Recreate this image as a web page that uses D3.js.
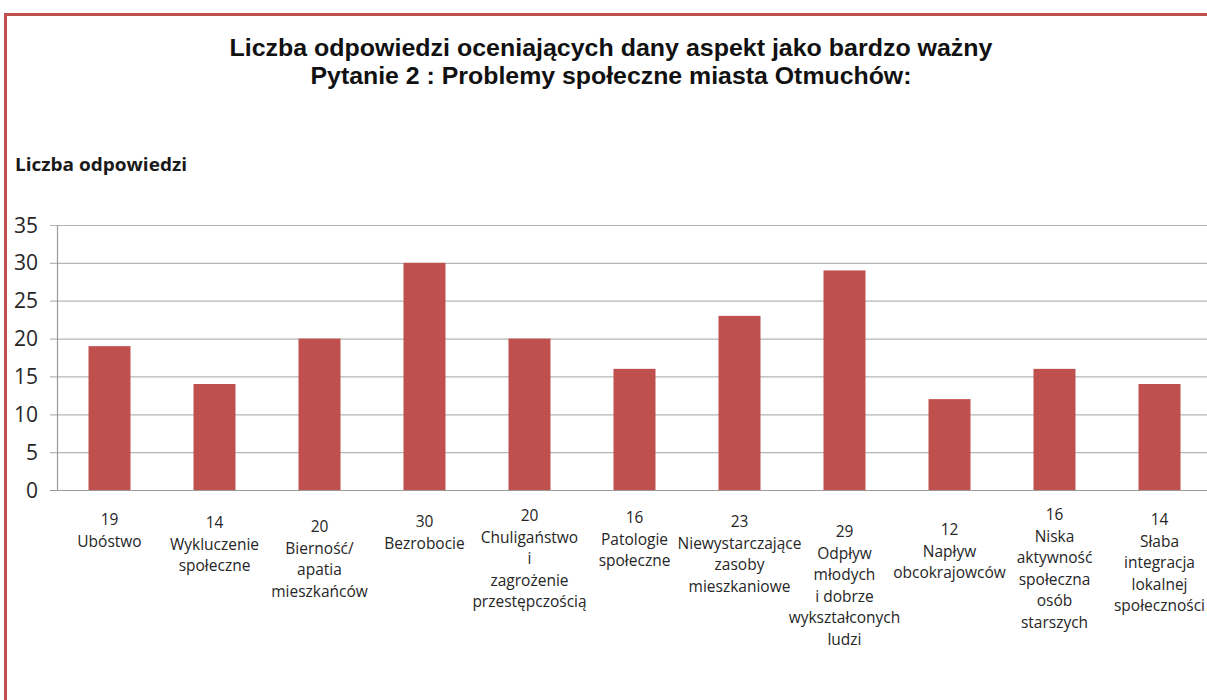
<!DOCTYPE html>
<html>
<head>
<meta charset="utf-8">
<script src="https://cdn.jsdelivr.net/npm/d3@7"></script>
<style>
  body { margin: 0; background: #fff; }
  svg { display: block; }
  .title { font-family: "Liberation Sans", Arial, sans-serif; font-weight: bold; font-size: 23px; fill: #111; }
  .ytitle { font-family: "Open Sans", sans-serif; font-weight: bold; font-size: 18px; fill: #1a1a1a; }
  .tick_y { font-family: "Open Sans", sans-serif; font-size: 21px; fill: #262626; }
  .cat { font-family: "Open Sans", sans-serif; font-size: 15.5px; fill: #262626; }
</style>
</head>
<body>
<svg id="chart" width="1207" height="700"></svg>
<script>
let categories = [
    ["Ubóstwo"],
    ["Wykluczenie", "społeczne"],
    ["Bierność/", "apatia", "mieszkańców"],
    ["Bezrobocie"],
    ["Chuligaństwo", "i", "zagrożenie", "przestępczością"],
    ["Patologie", "społeczne"],
    ["Niewystarczające", "zasoby", "mieszkaniowe"],
    ["Odpływ", "młodych", "i dobrze", "wykształconych", "ludzi"],
    ["Napływ", "obcokrajowców"],
    ["Niska", "aktywność", "społeczna", "osób", "starszych"],
    ["Słaba", "integracja", "lokalnej", "społeczności"]
];
let values = [19, 14, 20, 30, 20, 16, 23, 29, 12, 16, 14];
let yTicks = [0, 5, 10, 15, 20, 25, 30, 35];
let titleLines = [
    "Liczba odpowiedzi oceniających dany aspekt jako bardzo ważny",
    "Pytanie 2 : Problemy  społeczne miasta Otmuchów:"
];
let yTitle = "Liczba odpowiedzi";

// per-label vertical nudge (px) to mimic the original's label placement
let labelShift = [0, 3, 7, 2, -4, -2, 2, 12, 10, -5, 0];
// stretched widths of the title lines as in the original image
let titleWidths = [763, 601];

let svg = d3.select("#chart");

// frame
svg.append("path")
    .attr("d", "M5.5,700 L5.5,14.5 L1207,14.5")
    .attr("fill", "none")
    .attr("stroke", "#c0504d")
    .attr("stroke-width", 3);

let xScale = d3.scaleBand()
    .domain(d3.range(values.length))
    .range([57, 57 + 105 * values.length])
    .paddingInner(0.6)
    .paddingOuter(0.3);

let yScale = d3.scaleLinear()
    .domain([0, 35])
    .range([490, 225]);

// titles
svg.append("g")
    .selectAll("text")
    .data(titleLines)
    .enter()
    .append("text")
    .attr("class", "title")
    .attr("x", 611)
    .attr("y", (d, i) => 56 + i * 28)
    .attr("text-anchor", "middle")
    .attr("textLength", (d, i) => titleWidths[i])
    .attr("lengthAdjust", "spacingAndGlyphs")
    .text(d => d);

svg.append("text")
    .attr("class", "ytitle")
    .attr("x", 15)
    .attr("y", 171)
    .attr("textLength", 172)
    .attr("lengthAdjust", "spacingAndGlyphs")
    .text(yTitle);

// grid
svg.append("g")
    .selectAll("line")
    .data(yTicks)
    .enter()
    .append("line")
    .attr("x1", 50)
    .attr("x2", 1207)
    .attr("y1", d => yScale(d) + 0.5)
    .attr("y2", d => yScale(d) + 0.5)
    .attr("stroke", d => d === 0 ? "#9a9a9a" : "#b5b5b5")
    .attr("stroke-width", 1.2);

svg.append("line")
    .attr("x1", 57.5).attr("x2", 57.5)
    .attr("y1", yScale(35)).attr("y2", yScale(0))
    .attr("stroke", "#9a9a9a")
    .attr("stroke-width", 1.2);

svg.append("g")
    .selectAll("text")
    .data(yTicks)
    .enter()
    .append("text")
    .attr("class", "tick_y")
    .attr("x", 38)
    .attr("y", d => yScale(d) + 7.5)
    .attr("text-anchor", "end")
    .text(d => d);

// bars
svg.append("g")
    .selectAll("rect")
    .data(values)
    .enter()
    .append("rect")
    .attr("x", (d, i) => xScale(i))
    .attr("y", d => yScale(d))
    .attr("width", xScale.bandwidth())
    .attr("height", d => yScale(0) - yScale(d))
    .attr("fill", "#c0504d");

// category labels: value on top, then wrapped name
let labels = svg.append("g")
    .selectAll("text")
    .data(values)
    .enter()
    .append("text")
    .attr("class", "cat")
    .attr("text-anchor", "middle")
    .attr("x", (d, i) => xScale(i) + xScale.bandwidth() / 2)
    .attr("y", (d, i) => 525 + labelShift[i]);

labels.each(function(d, i) {
    let t = d3.select(this);
    let lines = [String(d)].concat(categories[i]);
    let cx = xScale(i) + xScale.bandwidth() / 2;
    lines.forEach((l, j) => {
        t.append("tspan")
            .attr("x", cx)
            .attr("dy", j === 0 ? 0 : 21.5)
            .text(l);
    });
});
</script>
</body>
</html>
